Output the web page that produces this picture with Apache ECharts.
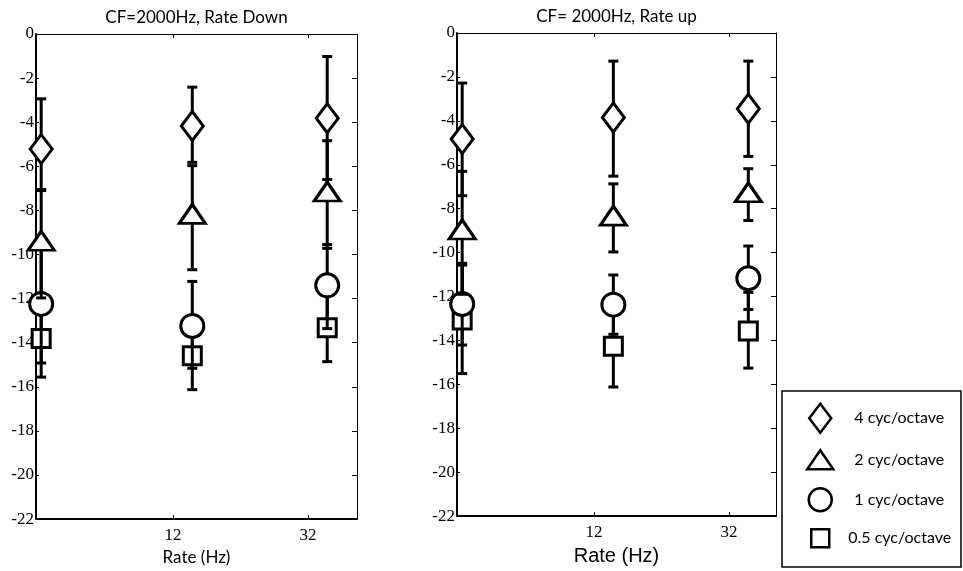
<!DOCTYPE html>
<html>
<head>
<meta charset="utf-8">
<script src="https://cdn.jsdelivr.net/npm/echarts@6/dist/echarts.min.js"></script>
<style>
  html, body { margin: 0; padding: 0; background: #fff; }
  #chart { width: 963px; height: 571px; }
</style>
</head>
<body>
<div id="chart"></div>
<script>
// ---- data ----
const seriesNames = ['4 cyc/octave', '2 cyc/octave', '1 cyc/octave', '0.5 cyc/octave'];
const rateHz = [4, 12, 32];
const rateTicks = [12, 32];
const panelTitles = ['CF=2000Hz, Rate Down', 'CF= 2000Hz, Rate up'];
const axisLabelX = 'Rate (Hz)';

// Rate Down: means and error-bar ends
const down4 = [-5.22, -4.17, -3.82];
const down4Lo = [-7.05, -5.82, -6.6];
const down4Hi = [-2.94, -2.41, -1.02];
const down2 = [-9.52, -8.3, -7.29];
const down2Lo = [-11.97, -10.69, -9.72];
const down2Hi = [-7.1, -5.97, -4.84];
const down1 = [-12.24, -13.24, -11.4];
const down1Lo = [-14.92, -15.16, -13.36];
const down1Hi = [-9.56, -11.22, -9.55];
const downHalf = [-13.81, -14.59, -13.32];
const downHalfLo = [-15.56, -16.13, -14.86];
const downHalfHi = [-12.06, -13.03, -11.8];

// Rate up: means and error-bar ends
const up4 = [-4.83, -3.85, -3.45];
const up4Lo = [-7.41, -6.52, -5.62];
const up4Hi = [-2.28, -1.28, -1.28];
const up2 = [-9.09, -8.46, -7.4];
const up2Lo = [-11.9, -9.97, -8.54];
const up2Hi = [-6.3, -6.87, -6.18];
const up1 = [-12.34, -12.37, -11.17];
const up1Lo = [-14.21, -13.72, -12.59];
const up1Hi = [-10.49, -11.02, -9.7];
const upHalf = [-13.07, -14.27, -13.57];
const upHalfLo = [-15.51, -16.12, -15.26];
const upHalfHi = [-10.57, -12.42, -11.81];

// ---- styling / layout ----
const markerShift = 1.15;   // markers sit slightly right of their nominal rate
const serif = "'Liberation Serif', 'Times New Roman', serif";
const sans = 'Lato';

const panels = [
  { grid: { left: 36, top: 34, width: 321, height: 489 }, xMax: 45.7, nameFont: { fontFamily: sans, fontSize: 17 }, nameGap: 22,
    groups: [[down4, down4Lo, down4Hi], [down2, down2Lo, down2Hi], [down1, down1Lo, down1Hi], [downHalf, downHalfLo, downHalfHi]] },
  { grid: { left: 457, top: 33, width: 319, height: 490 }, xMax: 45.0, nameFont: { fontFamily: 'Liberation Sans', fontSize: 20 }, nameGap: 20,
    groups: [[up4, up4Lo, up4Hi], [up2, up2Lo, up2Hi], [up1, up1Lo, up1Hi], [upHalf, upHalfLo, upHalfHi]] }
];

const triH = 19;
const markers = [
  { symbol: 'diamond', size: [22, 29], offset: [0, 0], icon: 'diamond', iw: 22, ih: 29, cy: 417, tx: 853 },
  { symbol: 'triangle', size: [26, triH], offset: [0, -triH / 6], icon: 'triangle', iw: 26, ih: 19, cy: 458.5, tx: 853 },
  { symbol: 'circle', size: 23, offset: [0, 0], icon: 'circle', iw: 23, ih: 23, cy: 498.5, tx: 853 },
  { symbol: 'rect', size: 18, offset: [0, 0], icon: 'rect', iw: 18, ih: 18, cy: 537, tx: 847 }
];
const legendCx = 819;
// draw order: squares first, diamonds on top
const drawOrder = [3, 2, 1, 0];

function errorBarItem(params, api) {
  const x = api.value(0);
  const pLo = api.coord([x, api.value(1)]);
  const pHi = api.coord([x, api.value(2)]);
  const cw = 5;
  const st = { stroke: '#000', lineWidth: 3 };
  return {
    type: 'group',
    children: [
      { type: 'line', shape: { x1: pLo[0], y1: pLo[1], x2: pHi[0], y2: pHi[1] }, style: st },
      { type: 'line', shape: { x1: pLo[0] - cw, y1: pLo[1], x2: pLo[0] + cw, y2: pLo[1] }, style: st },
      { type: 'line', shape: { x1: pHi[0] - cw, y1: pHi[1], x2: pHi[0] + cw, y2: pHi[1] }, style: st }
    ]
  };
}

const grid = [], xAxis = [], yAxis = [], series = [];
panels.forEach((p, pi) => {
  grid.push(p.grid);
  const xBase = {
    type: 'log', logBase: 10, gridIndex: pi, min: 4.43, max: p.xMax,
    splitLine: { show: false }, minorTick: { show: false }, minorSplitLine: { show: false }
  };
  // bottom axis: rate labels and name
  xAxis.push(Object.assign({}, xBase, {
    position: 'bottom',
    name: axisLabelX, nameLocation: 'middle', nameGap: p.nameGap,
    nameTextStyle: Object.assign({ color: '#000' }, p.nameFont),
    axisLine: { show: true, onZero: false, lineStyle: { color: '#000', width: 2 } },
    axisTick: { show: true, inside: true, length: 4, customValues: rateTicks, lineStyle: { color: '#000', width: 1 } },
    axisLabel: { show: true, customValues: rateTicks, margin: 8, color: '#000', fontFamily: serif, fontSize: 17,
      formatter: v => String(Math.round(v)) }
  }));
  // top frame edge with panel title
  xAxis.push(Object.assign({}, xBase, {
    position: 'top',
    name: panelTitles[pi], nameLocation: 'middle', nameGap: 8,
    nameTextStyle: { color: '#000', fontFamily: sans, fontSize: 17 },
    axisLine: { show: true, onZero: false, lineStyle: { color: '#000', width: 1 } },
    axisTick: { show: true, inside: true, length: 4, customValues: rateTicks, lineStyle: { color: '#000', width: 1 } },
    axisLabel: { show: false }
  }));
  const yBase = { type: 'value', gridIndex: pi, min: -22, max: 0, interval: 2, splitLine: { show: false } };
  yAxis.push(Object.assign({}, yBase, {
    position: 'left',
    axisLine: { show: true, onZero: false, lineStyle: { color: '#000', width: 2 } },
    axisTick: { show: true, inside: true, length: 3, lineStyle: { color: '#000', width: 1 } },
    axisLabel: { show: true, margin: 2, color: '#000', fontFamily: serif, fontSize: 17 }
  }));
  yAxis.push(Object.assign({}, yBase, {
    position: 'right',
    axisLine: { show: true, onZero: false, lineStyle: { color: '#000', width: 1 } },
    axisTick: { show: true, inside: true, length: 5, lineStyle: { color: '#000', width: 1 } },
    axisLabel: { show: false }
  }));

  drawOrder.forEach((si, k) => {
    const [mean, lo, hi] = p.groups[si];
    const m = markers[si];
    series.push({
      type: 'custom', name: seriesNames[si], xAxisIndex: pi * 2, yAxisIndex: pi * 2,
      renderItem: errorBarItem, silent: true, z: 2 + 2 * k,
      encode: { x: 0, y: [1, 2] },
      data: rateHz.map((r, i) => [r * markerShift, lo[i], hi[i]])
    });
    series.push({
      type: 'scatter', name: seriesNames[si], xAxisIndex: pi * 2, yAxisIndex: pi * 2,
      symbol: m.symbol, symbolSize: m.size, symbolOffset: m.offset, silent: true, z: 3 + 2 * k,
      itemStyle: { color: '#fff', borderColor: '#000', borderWidth: 3, opacity: 1 },
      emphasis: { disabled: true },
      data: rateHz.map((r, i) => [r * markerShift, mean[i]])
    });
  });
});

// one legend row per marker so every icon keeps its own size
const legend = markers.map((m, i) => {
  const left = legendCx - m.iw / 2;
  return {
    orient: 'vertical', left: left, top: m.cy - m.ih / 2, padding: 0,
    itemWidth: m.iw, itemHeight: m.ih, itemGap: 0, selectedMode: false,
    itemStyle: { color: '#fff', borderColor: '#000', borderWidth: 2.5 },
    textStyle: { color: '#000', fontFamily: sans, fontSize: 16,
      padding: [0, 0, 0, m.tx - (left + m.iw + 5)] },
    data: [{ name: seriesNames[i], icon: m.icon }]
  };
});

const chart = echarts.init(document.getElementById('chart'), null, { renderer: 'canvas' });
chart.setOption({
  animation: false,
  backgroundColor: '#fff',
  grid, xAxis, yAxis, series, legend,
  graphic: [{
    type: 'rect', z: -1, shape: { x: 782, y: 391, width: 179, height: 176 },
    style: { fill: '#fff', stroke: '#000', lineWidth: 1.5 }
  }]
});
</script>
</body>
</html>
